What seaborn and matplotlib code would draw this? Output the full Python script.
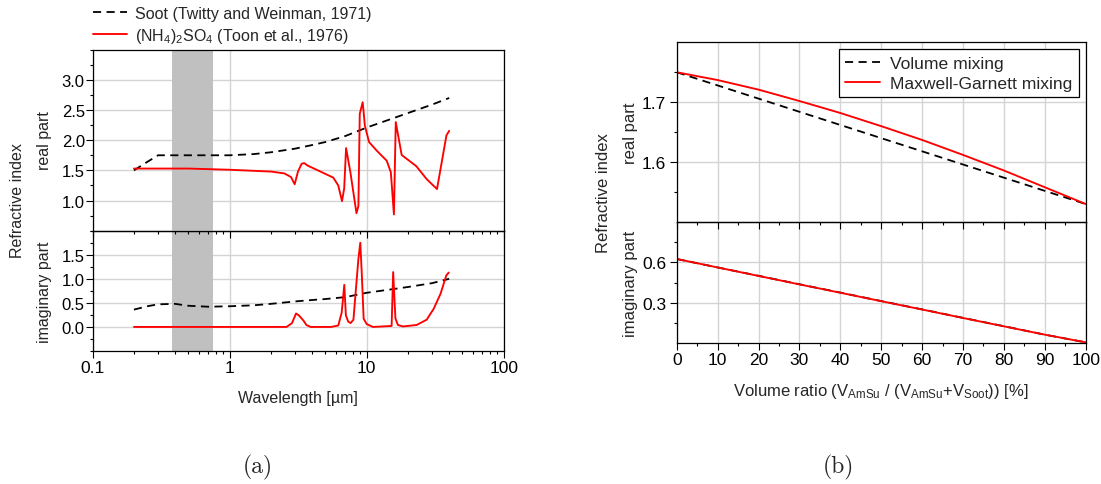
import matplotlib
matplotlib.use("Agg")
import matplotlib.pyplot as plt
import seaborn as sns
from matplotlib.ticker import FixedLocator, MultipleLocator, LogLocator, NullFormatter, FormatStrFormatter

# ---------------- data: panel (a) ----------------
soot_wl = [0.2, 0.25, 0.3, 0.4, 0.5, 0.7, 1.0, 1.5, 2.0, 3.0, 4.0, 5.0, 7.0, 10.0, 15.0, 20.0, 30.0, 40.0]
soot_n = [1.50, 1.64, 1.75, 1.75, 1.75, 1.75, 1.75, 1.77, 1.80, 1.86, 1.92, 1.97, 2.07, 2.21, 2.35, 2.45, 2.59, 2.70]
soot_k = [0.36, 0.43, 0.47, 0.48, 0.44, 0.42, 0.43, 0.45, 0.48, 0.53, 0.56, 0.58, 0.62, 0.71, 0.78, 0.83, 0.91, 1.00]

toon_n_wl = [0.2, 0.5, 1.0, 2.0, 2.5, 2.8, 2.98, 3.15, 3.35, 3.5, 3.7, 4.5, 5.7, 6.2, 6.6, 6.85,
             7.07, 7.6, 8.0, 8.42, 8.7, 8.9, 9.35, 9.7, 10.4, 11.8, 14.0, 15.0, 15.8, 16.3,
             18.0, 23.0, 27.4, 32.6, 38.2, 40.0]
toon_n = [1.53, 1.53, 1.51, 1.48, 1.45, 1.39, 1.27, 1.48, 1.61, 1.62, 1.58, 1.49, 1.38, 1.25, 0.99, 1.20,
          1.87, 1.47, 1.13, 0.79, 0.91, 2.44, 2.63, 2.24, 1.97, 1.83, 1.66, 1.47, 0.77, 2.30,
          1.755, 1.57, 1.355, 1.19, 2.08, 2.155]

toon_k_wl = [0.2, 2.6, 2.85, 3.05, 3.2, 3.46, 3.63, 3.9, 5.5, 6.2, 6.57, 6.86, 7.05, 7.33, 7.62,
             8.0, 8.27, 8.7, 8.98, 9.2, 9.5, 10.0, 11.1, 15.2, 15.6, 16.2, 16.9, 18.4, 23.1,
             27.4, 30.8, 34.6, 38.1, 39.7]
toon_k = [0.0, 0.0, 0.08, 0.28, 0.24, 0.13, 0.04, 0.0, 0.0, 0.03, 0.30, 0.875, 0.24, 0.11, 0.08,
          0.15, 0.65, 1.42, 1.75, 1.13, 0.17, 0.06, 0.0, 0.02, 1.14, 0.18, 0.04, 0.01, 0.04,
          0.15, 0.375, 0.69, 1.07, 1.13]

visible_band = (0.38, 0.75)

# ---------------- data: panel (b) ----------------
ratio = [0, 10, 20, 30, 40, 50, 60, 70, 80, 90, 100]
vol_n = [1.750, 1.728, 1.706, 1.684, 1.662, 1.640, 1.618, 1.596, 1.574, 1.552, 1.530]
mg_n = [1.750, 1.737, 1.721, 1.702, 1.682, 1.660, 1.637, 1.612, 1.586, 1.558, 1.530]
vol_k = [0.625, 0.562, 0.500, 0.437, 0.375, 0.312, 0.250, 0.187, 0.125, 0.062, 0.005]
mg_k = [0.625, 0.562, 0.499, 0.436, 0.374, 0.311, 0.249, 0.186, 0.124, 0.062, 0.005]

labels_a = ["Soot (Twitty and Weinman, 1971)", r"(NH$_4$)$_2$SO$_4$ (Toon et al., 1976)"]
labels_b = ["Volume mixing", "Maxwell-Garnett mixing"]

# ---------------- style ----------------
sns.set_theme(style="ticks")
plt.rcParams.update({
    "font.family": ["Liberation Sans", "DejaVu Sans"],
    "mathtext.fontset": "custom",
    "mathtext.rm": "Liberation Sans",
    "mathtext.it": "Liberation Sans:italic",
    "mathtext.bf": "Liberation Sans:bold",
    "axes.edgecolor": "black",
    "axes.linewidth": 0.9,
    "xtick.color": "black", "ytick.color": "black",
    "xtick.direction": "out", "ytick.direction": "out",
    "xtick.major.size": 4.7, "ytick.major.size": 4.7,
    "xtick.minor.size": 2.4, "ytick.minor.size": 2.4,
    "xtick.major.width": 0.8, "ytick.major.width": 0.8,
    "xtick.minor.width": 0.8, "ytick.minor.width": 0.8,
    "xtick.major.pad": 2, "ytick.major.pad": 1,
})

W, H = 1101, 485
fig = plt.figure(figsize=(W / 100, H / 100), dpi=100)
fig.patch.set_facecolor("white")


def box(x0, y0, x1, y1):
    return [x0 / W, 1 - y1 / H, (x1 - x0) / W, (y1 - y0) / H]


axA1 = fig.add_axes(box(92.7, 50.7, 503.7, 231.7))
axA2 = fig.add_axes(box(92.7, 231.7, 503.7, 352))
axB1 = fig.add_axes(box(676.7, 43.3, 1085.7, 223))
axB2 = fig.add_axes(box(676.7, 223, 1085.7, 344))
for ax in (axA1, axA2, axB1, axB2):
    ax.patch.set_alpha(0)
    for s in ax.spines.values():
        s.set_visible(True)
        s.set_color("black")
        s.set_linewidth(0.9)
    ax.set_axisbelow(True)
    ax.grid(True, which="major", color="#d4d4d4", lw=1.0)
axA1.set_zorder(3)
axB1.set_zorder(3)

BLACK_DASH = dict(color="black", linestyle=(0, (4.5, 3)), lw=1.3)
RED = dict(color="#ff0000", lw=1.35)

# ---- panel (a) ----
for ax in (axA1, axA2):
    ax.set_xscale("log")
    ax.axvspan(visible_band[0], visible_band[1], color="#c0c0c0", lw=0, zorder=1)

sns.lineplot(x=soot_wl, y=soot_n, ax=axA1, estimator=None, legend=False, label=labels_a[0], **BLACK_DASH)
sns.lineplot(x=toon_n_wl, y=toon_n, ax=axA1, estimator=None, legend=False, label=labels_a[1], **RED)
sns.lineplot(x=soot_wl, y=soot_k, ax=axA2, estimator=None, legend=False, **BLACK_DASH)
sns.lineplot(x=toon_k_wl, y=toon_k, ax=axA2, estimator=None, legend=False, **RED)

for ax in (axA1, axA2):
    ax.set_xlim(0.1, 100)
    ax.xaxis.set_major_locator(FixedLocator([0.1, 1, 10, 100]))
    ax.xaxis.set_minor_locator(LogLocator(base=10, subs=range(2, 10)))
    ax.xaxis.set_minor_formatter(NullFormatter())
    ax.set_xlabel("")
    ax.set_ylabel("")
axA2.set_xticklabels(["0.1", "1", "10", "100"])
axA1.tick_params(labelbottom=False)
axA1.set_ylim(0.5, 3.5)
axA1.yaxis.set_major_locator(FixedLocator([1.0, 1.5, 2.0, 2.5, 3.0]))
axA1.yaxis.set_minor_locator(MultipleLocator(0.25))
axA2.set_ylim(-0.5, 2.0)
axA2.yaxis.set_major_locator(FixedLocator([0.0, 0.5, 1.0, 1.5]))
axA2.yaxis.set_minor_locator(MultipleLocator(0.25))
for ax in (axA1, axA2):
    ax.tick_params(axis="both", which="both", labelsize=12)
    ax.yaxis.set_major_formatter(FormatStrFormatter("%.1f"))
axA2.tick_params(axis="x", labelsize=12.5)

hA, lA = axA1.get_legend_handles_labels()
fig.legend(hA, lA, loc="upper left", bbox_to_anchor=(93 / W, 1 - 7 / H),
           frameon=False, fontsize=11.5, handlelength=2.1, handletextpad=0.5,
           labelspacing=0.3, borderpad=0, borderaxespad=0)

fig.text(18 / W, 1 - 201 / H, "Refractive index", rotation=90, ha="center", va="center", fontsize=11.5)
fig.text(45 / W, 1 - 141 / H, "real part", rotation=90, ha="center", va="center", fontsize=11.5)
fig.text(45 / W, 1 - 292 / H, "imaginary part", rotation=90, ha="center", va="center", fontsize=11.5)
fig.text(298 / W, 1 - 403 / H, "Wavelength [µm]", ha="center", va="baseline", fontsize=11.5)

# ---- panel (b) ----
sns.lineplot(x=ratio, y=vol_n, ax=axB1, estimator=None, legend=False, label=labels_b[0], **BLACK_DASH)
sns.lineplot(x=ratio, y=mg_n, ax=axB1, estimator=None, legend=False, label=labels_b[1], **RED)
sns.lineplot(x=ratio, y=vol_k, ax=axB2, estimator=None, legend=False, **BLACK_DASH)
sns.lineplot(x=ratio, y=mg_k, ax=axB2, estimator=None, legend=False, **RED)

for ax in (axB1, axB2):
    ax.set_xlim(0, 100)
    ax.xaxis.set_major_locator(MultipleLocator(10))
    ax.xaxis.set_minor_locator(MultipleLocator(5))
    ax.set_xlabel("")
    ax.set_ylabel("")
    ax.tick_params(axis="both", which="both", labelsize=12.5)
    ax.tick_params(axis="y", which="major", pad=3)
axB1.tick_params(labelbottom=False)
axB1.set_ylim(1.5, 1.8)
axB1.yaxis.set_major_locator(FixedLocator([1.6, 1.7]))
axB1.yaxis.set_minor_locator(FixedLocator([1.55, 1.65, 1.75]))
axB2.set_ylim(0.0, 0.9)
axB2.yaxis.set_major_locator(FixedLocator([0.3, 0.6]))
axB2.yaxis.set_minor_locator(FixedLocator([0.15, 0.45, 0.75]))
for ax in (axB1, axB2):
    ax.yaxis.set_major_formatter(FormatStrFormatter("%.1f"))

hB, lB = axB1.get_legend_handles_labels()
leg = axB1.legend(hB, lB, loc="upper right", frameon=True, fancybox=False, framealpha=1,
                  edgecolor="black", fontsize=12.6, handlelength=2.0, handletextpad=0.6,
                  borderaxespad=0.4, labelspacing=0.3, borderpad=0.35)
leg.get_frame().set_linewidth(0.9)

fig.text(604 / W, 1 - 193.5 / H, "Refractive index", rotation=90, ha="center", va="center", fontsize=12)
fig.text(630 / W, 1 - 133 / H, "real part", rotation=90, ha="center", va="center", fontsize=12)
fig.text(630 / W, 1 - 283.5 / H, "imaginary part", rotation=90, ha="center", va="center", fontsize=12)
fig.text(881 / W, 1 - 396 / H,
         r"Volume ratio (V$_{\mathrm{AmSu}}$ / (V$_{\mathrm{AmSu}}$+V$_{\mathrm{Soot}}$)) [%]",
         ha="center", va="baseline", fontsize=12)

# ---- captions ----
fig.text(258 / W, 1 - 467 / H, "(a)", family="cmr10", fontsize=17, ha="center", va="center")
fig.text(838 / W, 1 - 467 / H, "(b)", family="cmr10", fontsize=17, ha="center", va="center")

fig.savefig("out.png", dpi=100, facecolor="white")
